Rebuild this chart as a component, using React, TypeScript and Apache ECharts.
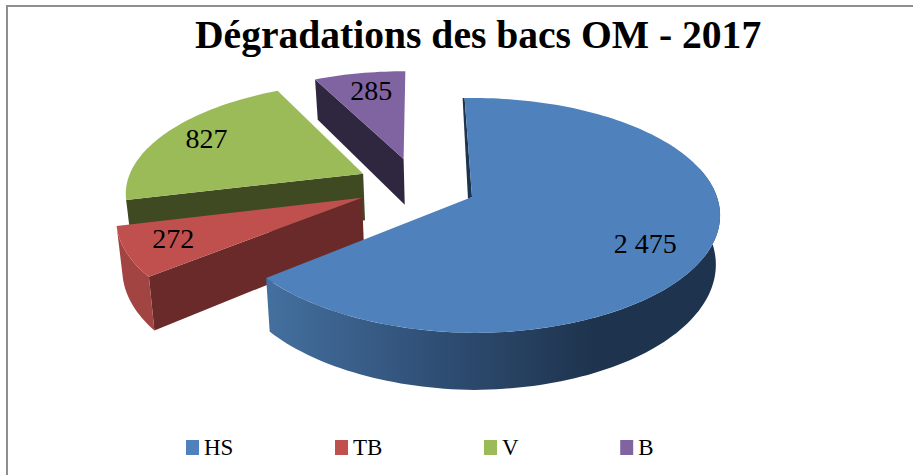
import React, { useEffect, useRef } from "react";
import * as echarts from "echarts";

const titleText = "Dégradations des bacs OM - 2017";
const categories = ["HS", "TB", "V", "B"];
const values = [2475, 272, 827, 285];
const valueLabels = ["2 475", "272", "827", "285"];
const topColors = ["#4F81BD", "#C0504D", "#9BBB59", "#8064A2"];
const sideColors = ["#1E344E", "#6B2A2A", "#404A22", "#2F2640"];
const wallColors = ["#2C4A70", "#A24442", "#7F9A49", "#6A5387"];

const total = values.reduce((a, b) => a + b, 0);
const START_DEG = -2;
const EXPLODE = 0.249;
const K = 0.157;
const X0 = 472;
const Y0 = 197;
const RX = 245;
const RY = 114.6;
const DEPTH = 48;
const TAPER = 0.983;
const SHEAR = 0.0143;
const SMALL_R = 0.975;
const LABEL_R = 0.76;
const LABEL_NUDGE = [[-6, 10], [-8, -1], [-2, -3], [3, 0]];

const rad = (d: number) => (d * Math.PI) / 180;
const dir = (deg: number): [number, number] => [Math.sin(rad(deg)), -Math.cos(rad(deg))];

const sliceAngles = (() => {
  let cur = START_DEG;
  return values.map((v) => {
    const a0 = cur;
    cur += (v / total) * 360;
    return [a0, cur];
  });
})();

const offset = (i: number): [number, number] => {
  const mid = dir((sliceAngles[i][0] + sliceAngles[i][1]) / 2);
  const ref = dir((sliceAngles[0][0] + sliceAngles[0][1]) / 2);
  return [EXPLODE * (mid[0] - ref[0]), EXPLODE * (mid[1] - ref[1])];
};

const project = (wx: number, wv: number, low = false): number[] => {
  const p = 1 / (1 - K * wv);
  const x = RX * wx * p;
  const y = RY * wv * p;
  const tilt = x < 0 ? x * SHEAR : 0;
  return low ? [X0 + x * TAPER, Y0 + y + tilt + DEPTH * p] : [X0 + x, Y0 + y + tilt];
};

const arcPoints = (i: number, a0: number, a1: number, low = false): number[][] => {
  const [ox, ov] = offset(i);
  const r = i === 0 ? 1 : SMALL_R;
  const n = Math.max(2, Math.ceil(Math.abs(a1 - a0) / 1.5));
  const out: number[][] = [];
  for (let s = 0; s <= n; s++) {
    const [u, v] = dir(a0 + ((a1 - a0) * s) / n);
    out.push(project(u * r + ox, v * r + ov, low));
  }
  return out;
};

const renderSlice = (i: number) => (_params: unknown, api: any) => {
  const share = (api.value(0) / total) * 360;
  const a0 = sliceAngles[i][0];
  const a1 = a0 + share;
  const [ox, ov] = offset(i);
  const apexT = project(ox, ov);
  const apexB = project(ox, ov, true);
  const children: any[] = [];
  const startT = arcPoints(i, a0, a0 + 0.001)[0];
  const startB = arcPoints(i, a0, a0 + 0.001, true)[0];
  if (i !== 0) {
    children.push({
      type: "polygon",
      shape: { points: [apexT, startT, startB, apexB] },
      style: { fill: sideColors[i] },
    });
  } else {
    children.push({
      type: "polygon",
      shape: {
        points: [
          apexT,
          startT,
          [startT[0] - 2, startT[1]],
          [apexT[0] - 4, apexT[1] + 2],
        ],
      },
      style: { fill: sideColors[i] },
    });
  }
  const w0 = Math.max(a0, 75);
  const w1 = Math.min(a1, 255);
  if (w1 - w0 > 1) {
    const top = arcPoints(i, w0, w1);
    const bot = arcPoints(i, w0, w1, true).reverse();
    children.push({
      type: "polygon",
      shape: { points: [...top, ...bot] },
      style: {
        fill:
          i === 0
            ? new echarts.graphic.LinearGradient(1, 0, 0, 0, [
                { offset: 0, color: "#1E344E" },
                { offset: 0.28, color: "#1E344E" },
                { offset: 0.62, color: "#2F4E74" },
                { offset: 1, color: "#44709F" },
              ])
            : wallColors[i],
      },
    });
  }
  children.push({
    type: "polygon",
    shape: { points: [apexT, ...arcPoints(i, a0, a1)] },
    style: { fill: topColors[i] },
  });
  const [mu, mv] = dir((a0 + a1) / 2);
  const [lx, ly] = project(mu * LABEL_R + ox, mv * LABEL_R + ov);
  children.push({
    type: "text",
    style: {
      text: valueLabels[i],
      x: lx + LABEL_NUDGE[i][0],
      y: ly + LABEL_NUDGE[i][1],
      align: "center",
      verticalAlign: "middle",
      font: '28px "Liberation Serif"',
      fill: "#000",
    },
  });
  return { type: "group", children };
};

export default function App() {
  const ref = useRef<HTMLDivElement>(null);
  useEffect(() => {
    const chart = echarts.init(ref.current!, undefined, { renderer: "svg" });
    chart.setOption({
      animation: false,
      backgroundColor: "#fff",
      title: {
        text: titleText,
        left: 190,
        top: 10,
        textStyle: { fontFamily: "Liberation Serif", fontWeight: "bold", fontSize: 39.6, color: "#000" },
      },
      legend: {
        data: categories.map((name, i) => ({ name, itemStyle: { color: topColors[i] } })),
        left: 181,
        top: 431,
        icon: "rect",
        itemWidth: 13,
        itemHeight: 15,
        itemGap: 101.6,
        textStyle: { fontFamily: "Liberation Serif", fontSize: 23, color: "#000" },
      },
      graphic: [
        { type: "line", shape: { x1: 6, y1: 6, x2: 913, y2: 6 }, style: { stroke: "#8e8e8e", lineWidth: 2 } },
        { type: "line", shape: { x1: 7, y1: 5, x2: 7, y2: 475 }, style: { stroke: "#8e8e8e", lineWidth: 2 } },
      ],
      series: categories.map((name, i) => ({
        type: "custom",
        name,
        coordinateSystem: "none",
        z: 2 + (categories.length - i),
        itemStyle: { color: topColors[i] },
        data: [[values[i]]],
        renderItem: renderSlice(i),
      })),
    });
    return () => chart.dispose();
  }, []);
  return <div ref={ref} style={{ position: "absolute", left: 0, top: 0, width: 913, height: 475 }} />;
}
